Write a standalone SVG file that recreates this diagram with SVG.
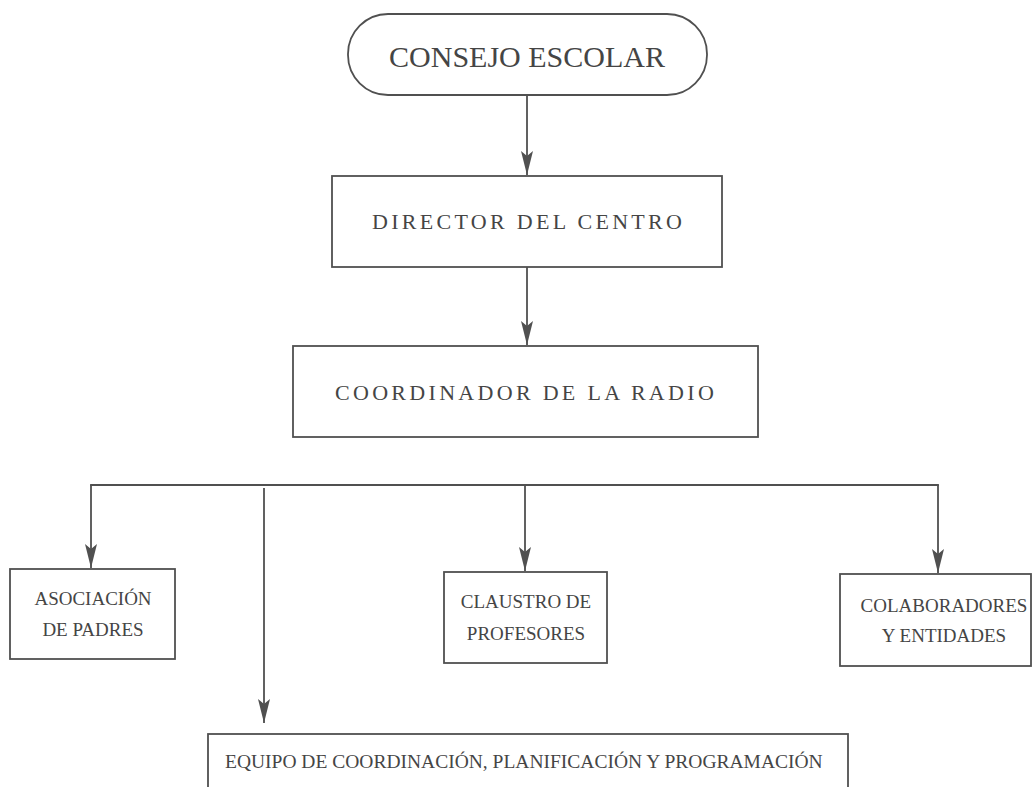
<svg xmlns="http://www.w3.org/2000/svg" width="1035" height="787" viewBox="0 0 1035 787">
<style>
.box{fill:#fff;stroke:#505050;stroke-width:1.8}
.t{font-family:"Liberation Serif","Times New Roman",serif;fill:#454545}
.big{font-size:30px}
.mid{font-size:22px;letter-spacing:3.3px}
.sm{font-size:19px;text-anchor:middle}
.eq{font-size:19.5px}
.ln{fill:none;stroke:#505050;stroke-width:1.8}
</style>
<defs>
<marker id="ah" viewBox="0 0 24 12" refX="24" refY="6" markerWidth="24" markerHeight="12" markerUnits="userSpaceOnUse" orient="auto">
<path d="M0,0 L24,6 L0,12 L5,6 z" fill="#505050"/>
</marker>
</defs>
<rect width="1035" height="787" fill="#fff"/>
<g id="connectors">
<line class="ln" x1="527" y1="95" x2="527" y2="175" marker-end="url(#ah)"/>
<line class="ln" x1="527" y1="267" x2="527" y2="345" marker-end="url(#ah)"/>
<line class="ln" x1="90.1" y1="485" x2="938.9" y2="485"/>
<line class="ln" x1="91" y1="485" x2="91" y2="568" marker-end="url(#ah)"/>
<line class="ln" x1="938" y1="485" x2="938" y2="573" marker-end="url(#ah)"/>
<line class="ln" x1="525" y1="485" x2="525" y2="571" marker-end="url(#ah)"/>
<line class="ln" x1="264" y1="488" x2="264" y2="723" marker-end="url(#ah)"/>
</g>
<g id="consejo">
<rect class="box" x="348" y="14" width="359" height="81" rx="40" ry="40"/>
<text class="t big" x="527" y="67" text-anchor="middle">CONSEJO ESCOLAR</text>
</g>
<g id="director">
<rect class="box" x="332" y="176" width="390" height="91"/>
<text class="t mid" x="372" y="229">DIRECTOR DEL CENTRO</text>
</g>
<g id="coordinador">
<rect class="box" x="293" y="346" width="465" height="91"/>
<text class="t mid" x="335" y="400">COORDINADOR DE LA RADIO</text>
</g>
<g id="asociacion">
<rect class="box" x="10" y="569" width="165" height="90"/>
<text class="t sm" x="93" y="605">ASOCIACIÓN</text>
<text class="t sm" x="93" y="636">DE PADRES</text>
</g>
<g id="claustro">
<rect class="box" x="444" y="572" width="163" height="91"/>
<text class="t sm" x="526" y="608">CLAUSTRO DE</text>
<text class="t sm" x="526" y="640">PROFESORES</text>
</g>
<g id="colaboradores">
<rect class="box" x="840" y="574" width="191" height="92"/>
<text class="t sm" x="944" y="612">COLABORADORES</text>
<text class="t sm" x="944" y="642">Y ENTIDADES</text>
</g>
<g id="equipo">
<rect class="box" x="208" y="734" width="640" height="80"/>
<text class="t eq" x="225" y="768">EQUIPO DE COORDINACIÓN, PLANIFICACIÓN Y PROGRAMACIÓN</text>
</g>
</svg>
